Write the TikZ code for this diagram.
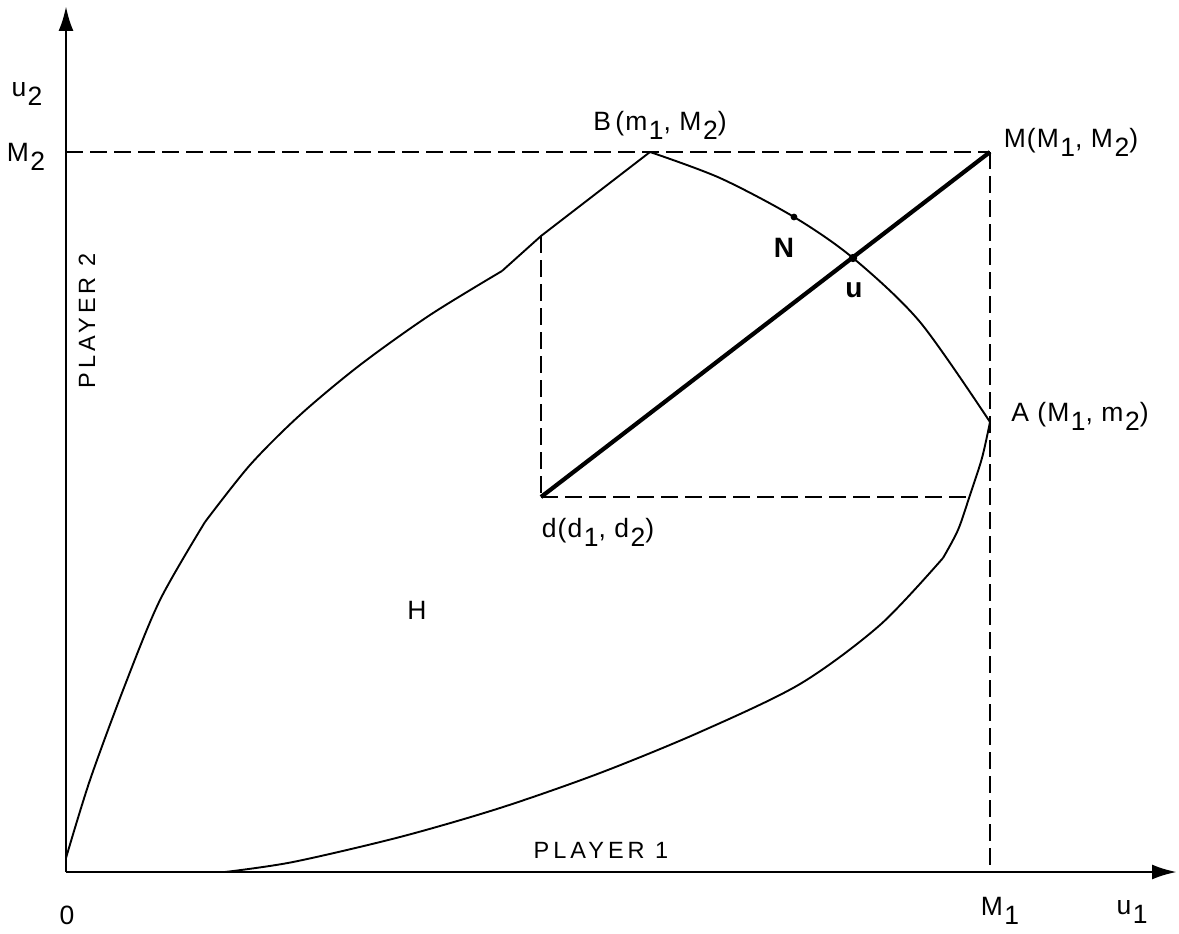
\documentclass[tikz,border=0pt]{standalone}
\usepackage{fontspec}
\setmainfont{Liberation Sans}[LetterSpace=4]
\usetikzlibrary{arrows.meta}
\newcommand{\lo}[1]{\kern1.5pt\raisebox{-9pt}{#1}}
\begin{document}
\begin{tikzpicture}[x=1pt,y=-1pt,
  axis/.style={line width=2.8pt,-{Latex[length=25pt,width=15pt]}},
  guide/.style={line width=1.8pt,dash pattern=on 17pt off 7pt},
  bound/.style={line width=1.9pt},
  thick line/.style={line width=4.2pt},
  lab/.style={font=\fontsize{26.5}{28}\selectfont,inner sep=0pt},
  bold lab/.style={font=\fontsize{28}{30}\selectfont\bfseries,inner sep=0pt},
  player/.style={font=\fontsize{23.5}{25}\selectfont\addfontfeature{LetterSpace=17},inner sep=0pt}]
\useasboundingbox (0,0) rectangle (1179,934);
\coordinate (O) at (66,872);
\coordinate (ytip) at (66,6);
\coordinate (xtip) at (1177,872);
\coordinate (M) at (990,152);
\coordinate (B) at (650,152);
\coordinate (A) at (990,422);
\coordinate (d) at (541,497);
\coordinate (K) at (541,236);
\coordinate (Kb) at (502,271);
\coordinate (Mone) at (990,872);
\coordinate (Mtwo) at (66,152);
\coordinate (dr) at (967,497);
\coordinate (U) at (853,258);
\coordinate (N) at (794,217);
% guides
\draw[guide] (Mtwo) -- (M);
\draw[guide] (M) -- (Mone);
\draw[guide] (K) -- (d);
\draw[guide] (d) -- (dr);
% boundary of H
\draw[bound] plot[smooth] coordinates {(66,858) (90,780) (125,685) (160,600) (205,522)};
\draw[bound] plot[smooth] coordinates {(205,522) (250,465) (300,415) (360,365) (430,315) (502,271)};
\draw[bound] (Kb) -- (K) -- (B);
\draw[bound] plot[smooth] coordinates {(650,152) (720,178) (794,217) (853,258) (920,322) (990,422)};
\draw[bound] plot[smooth] coordinates {(225,872) (293,862) (400,837) (500,808) (600,773) (700,732) (800,684) (880,625) (943,558)};
\draw[bound] plot[smooth] coordinates {(943,558) (958,530) (970,495) (982,458) (990,422)};
% thick segment
\draw[thick line] (d) -- (M);
\fill (N) circle (3.4pt);
\fill (U) circle (4.2pt);
% axes
\draw[axis] (O) -- (ytip);
\draw[axis] (O) -- (xtip);
% labels
\node[lab] (lu2) at (27,94) {u\lo{2}};
\node[lab] (lM2) at (26,157) {M\lo{2}};
\node[lab] (lB) at (660,125) {B\,(m\lo{1}, M\lo{2})};
\node[lab] (lM) at (1071,142) {M(M\lo{1}, M\lo{2})};
\node[bold lab] (lN) at (784,248) {N};
\node[bold lab] (lU) at (854,290) {u};
\node[lab] (lA) at (1080,416) {A (M\lo{1}, m\lo{2})};
\node[lab] (ld) at (598,532) {d(d\lo{1}, d\lo{2})};
\node[lab] (lH) at (417,610) {H};
\node[player,rotate=90] (p2) at (87,321) {PLAYER 2};
\node[player] (p1) at (601,850) {PLAYER 1};
\node[lab] (l0) at (67,915) {0};
\node[lab] (lM1) at (1000,911) {M\lo{1}};
\node[lab] (lu1) at (1132,912) {u\lo{1}};
\end{tikzpicture}
\end{document}
